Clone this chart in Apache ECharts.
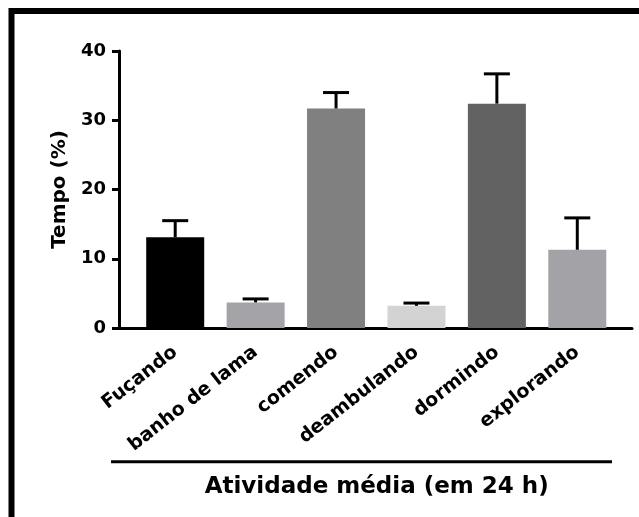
<!DOCTYPE html>
<html>
<head>
<meta charset="utf-8">
<script src="https://cdn.jsdelivr.net/npm/echarts@6/dist/echarts.min.js"></script>
<style>
  html, body { margin: 0; padding: 0; background: #fff; }
  #chart { width: 639px; height: 517px; }
</style>
</head>
<body>
<div id="chart"></div>
<script>
// Mean share of the day spent on each activity, with its standard error
const categories = ['Fuçando', 'banho de lama', 'comendo', 'deambulando', 'dormindo', 'explorando'];
const meanValues = [13.1, 3.7, 31.7, 3.2, 32.4, 11.3];
const errorValues = [2.4, 0.5, 2.3, 0.4, 4.3, 4.6];
const barColors = ['#000000', '#a3a3a8', '#808080', '#d3d3d3', '#626262', '#a2a2a7'];
const yTicks = { min: 0, max: 40, interval: 10 };

const FONT = 'DejaVu Sans';
const chart = echarts.init(document.getElementById('chart'), null, { renderer: 'canvas' });

const barData = meanValues.map((v, i) => ({ value: v, itemStyle: { color: barColors[i] } }));
const errData = meanValues.map((v, i) => [i, v, v + errorValues[i]]);

chart.setOption({
  animation: false,
  backgroundColor: '#ffffff',
  grid: [
    { left: 135, right: 21.5, top: 51, bottom: 189 },
    { left: 119, right: 7, top: 51, bottom: 189 }
  ],
  xAxis: [
    {
      type: 'category',
      gridIndex: 0,
      data: categories,
      axisLine: { show: false },
      axisTick: { alignWithLabel: true, length: 7, lineStyle: { color: '#000', width: 3 } },
      axisLabel: {
        interval: 0, rotate: 38, margin: 22,
        color: '#000', fontFamily: FONT, fontWeight: 'bold', fontSize: 19
      }
    },
    {
      type: 'value',
      gridIndex: 1,
      min: 0, max: 1,
      axisLine: { show: true, onZero: false, lineStyle: { color: '#000', width: 3 } },
      axisTick: { show: false },
      axisLabel: { show: false },
      splitLine: { show: false }
    }
  ],
  yAxis: [
    {
      type: 'value',
      gridIndex: 0,
      min: yTicks.min, max: yTicks.max, interval: yTicks.interval,
      offset: 16,
      name: 'Tempo (%)',
      nameLocation: 'middle',
      nameGap: 48,
      nameTextStyle: { color: '#000', fontFamily: FONT, fontWeight: 'bold', fontSize: 20 },
      axisLine: { show: true, lineStyle: { color: '#000', width: 3 } },
      axisTick: { show: true, length: 7, lineStyle: { color: '#000', width: 3 } },
      axisLabel: { margin: 13, color: '#000', fontFamily: FONT, fontWeight: 'bold', fontSize: 18 },
      splitLine: { show: false }
    },
    {
      type: 'value', gridIndex: 1, min: 0, max: 1, show: false
    }
  ],
  series: [
    {
      type: 'bar',
      xAxisIndex: 0, yAxisIndex: 0,
      data: barData,
      barWidth: 58,
      z: 2
    },
    {
      type: 'custom',
      xAxisIndex: 0, yAxisIndex: 0,
      data: errData,
      z: 3,
      renderItem: function (params, api) {
        const i = api.value(0);
        const base = api.coord([i, api.value(1)]);
        const top = api.coord([i, api.value(2)]);
        const half = 13;
        const style = { stroke: '#000', lineWidth: 3 };
        return {
          type: 'group',
          children: [
            { type: 'line', shape: { x1: base[0], y1: base[1], x2: top[0], y2: top[1] }, style: style },
            { type: 'line', shape: { x1: top[0] - half, y1: top[1], x2: top[0] + half, y2: top[1] }, style: style }
          ]
        };
      }
    }
  ],
  graphic: [
    {
      type: 'rect',
      shape: { x: 11.5, y: 11, width: 700, height: 600 },
      style: { fill: 'none', stroke: '#000', lineWidth: 6 },
      silent: true
    },
    {
      type: 'line',
      shape: { x1: 111, y1: 461.7, x2: 612, y2: 461.7 },
      style: { stroke: '#000', lineWidth: 3 },
      silent: true
    },
    {
      type: 'text',
      x: 376.7, y: 487,
      style: {
        text: 'Atividade média (em 24 h)',
        fill: '#000',
        font: 'bold 23px "DejaVu Sans"',
        textAlign: 'center',
        textVerticalAlign: 'middle'
      },
      silent: true
    }
  ]
});
</script>
</body>
</html>
